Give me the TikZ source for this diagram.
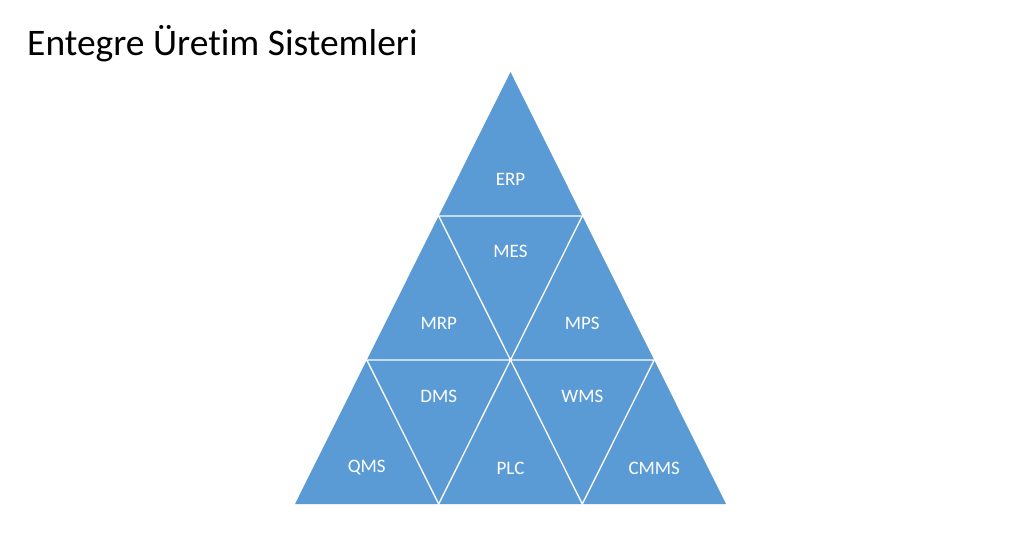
\documentclass[tikz,border=0pt]{standalone}
\usepackage{fontspec}
\setmainfont[Ligatures={NoCommon,NoRequired}]{Carlito}
\definecolor{tri}{HTML}{5B9BD5}
\begin{document}
\begin{tikzpicture}[x=1pt,y=-1pt,
  lab/.style={text=white,font=\fontsize{19}{21}\selectfont,inner sep=0pt},
  sep/.style={draw=white,line width=1.3pt,line join=miter}]
\useasboundingbox (0,0) rectangle (1024,551);
\fill[white] (0,0) rectangle (1024,551);
\node[anchor=base west,inner sep=0pt,font=\fontsize{37.5}{42}\selectfont] (title) at (27,55.5) {Entegre Üretim Sistemleri};
% coordinates
\coordinate (A) at (510.5,72);
\coordinate (L1) at (438.7,216);
\coordinate (R1) at (582.3,216);
\coordinate (L2) at (366.8,360);
\coordinate (M2) at (510.5,360);
\coordinate (R2) at (654.2,360);
\coordinate (L3) at (295,504);
\coordinate (B1) at (438.7,504);
\coordinate (B2) at (582.3,504);
\coordinate (R3) at (726,504);
\fill[tri] (A) -- (L3) -- (R3) -- cycle;
\draw[sep] (L1) -- (R1) -- (M2) -- cycle;
\draw[sep] (L2) -- (M2) -- (B1) -- cycle;
\draw[sep] (M2) -- (R2) -- (B2) -- cycle;
\node[lab] (erp) at (510.5,179) {ERP};
\node[lab] (mes) at (510.5,251) {MES};
\node[lab] (mrp) at (438.7,323) {MRP};
\node[lab] (mps) at (582.3,323) {MPS};
\node[lab] (dms) at (438.7,396) {DMS};
\node[lab] (wms) at (582.3,396) {WMS};
\node[lab] (qms) at (366.8,468) {QMS};
\node[lab] (plc) at (510.5,468) {PLC};
\node[lab] (cmms) at (654.2,468) {CMMS};
\end{tikzpicture}
\end{document}
